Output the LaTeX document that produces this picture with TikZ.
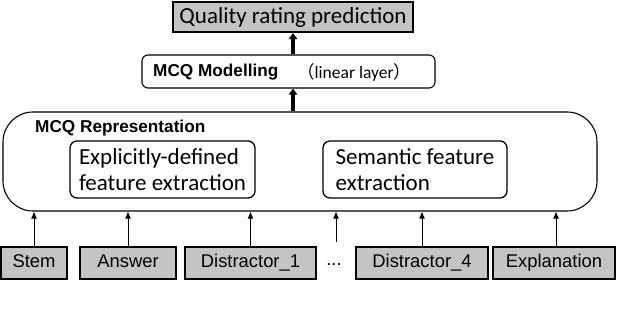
\documentclass[tikz,border=0pt]{standalone}
\usepackage{fontspec}
\newfontfamily\calfont{Carlito}
\newfontfamily\arialfont{Liberation Sans}
\newfontfamily\cjk{Noto Sans CJK SC}
\usetikzlibrary{arrows.meta,calc}
\definecolor{inGray}{RGB}{196,196,196}
\tikzset{
  inputbox/.style={draw=black, line width=2.3pt, fill=inGray, minimum height=32pt, inner sep=0pt,
    text height=13pt, text depth=4pt, font=\arialfont\fontsize{18.4}{21}\selectfont},
  predbox/.style={draw=black, line width=2.4pt, fill=inGray, minimum width=240pt, minimum height=30pt,
    inner sep=0pt, font=\calfont\fontsize{23}{26}\selectfont},
  modelbox/.style={draw=black, line width=1.1pt, rounded corners=6pt, fill=white,
    minimum width=293pt, minimum height=33pt, inner sep=0pt},
  reprbox/.style={draw=black, line width=1.1pt, rounded corners=30pt,
    minimum width=594pt, minimum height=99pt, inner sep=0pt},
  featbox/.style={draw=black, line width=1.3pt, rounded corners=7pt, fill=white,
    minimum height=57pt, inner sep=0pt, align=left, font=\calfont\fontsize{23}{26}\selectfont},
  boldlabel/.style={inner sep=0pt, anchor=west, font=\arialfont\bfseries\fontsize{17.2}{20}\selectfont},
  lift/.style={-{Triangle[length=6pt,width=8.5pt]}, line width=3.8pt},
  feed/.style={-{Latex[length=7pt,width=6pt]}, line width=0.9pt}
}

\begin{document}
\begin{tikzpicture}[x=1pt,y=-1pt]
    \useasboundingbox (0,0) rectangle (618,312);
    % top: prediction and modelling
    \node[predbox] (pred) at (293,17) {Quality rating prediction};
    \node[modelbox] (model) at (288.5,71.5) {};
    \node[boldlabel] (modeltxt) at (153,72) {MCQ Modelling};
    \node[inner sep=0pt, anchor=west, font=\calfont\fontsize{17.5}{20}\selectfont] (lintxt) at (297,72)
      {{\cjk （}linear layer{\cjk ）}};
    % representation block
    \node[reprbox] (repr) at (300,161.5) {};
    \node[boldlabel] (reprtxt) at (35,128) {MCQ Representation};
    \node[featbox, minimum width=185pt] (explicit) at (162.5,169.5) {Explicitly-defined\\feature extraction};
    \node[featbox, minimum width=184pt] (semantic) at (415,169.5) {Semantic feature\\extraction};
    \draw[lift] (model.north -| pred.south) -- (pred.south);
    \draw[lift] (repr.north -| pred.south) -- (model.south -| pred.south);
    % inputs
    \node[inputbox, minimum width=66pt] (stem) at (34,263) {Stem};
    \node[inputbox, minimum width=96pt] (answer) at (128,263) {Answer};
    \node[inputbox, minimum width=131pt] (dis1) at (250.5,263) {Distractor\_1};
    \node[inner sep=0pt, font=\arialfont\fontsize{18.4}{21}\selectfont] (dots) at (334,265) {...};
    \node[inputbox, minimum width=132pt] (dis4) at (422,263) {Distractor\_4};
    \node[inputbox, minimum width=122pt] (expl) at (554,263) {Explanation};
    \coordinate (dotsfoot) at (336,242);
    \draw[feed] (stem.north) -- (stem.north |- repr.south);
    \draw[feed] (answer.north) -- (answer.north |- repr.south);
    \draw[feed] (dis1.north) -- (dis1.north |- repr.south);
    \draw[feed] (dotsfoot) -- (dotsfoot |- repr.south);
    \draw[feed] (dis4.north) -- (dis4.north |- repr.south);
    \draw[feed] ([xshift=2pt]expl.north) -- ([xshift=2pt]expl.north |- repr.south);
\end{tikzpicture}
\end{document}
